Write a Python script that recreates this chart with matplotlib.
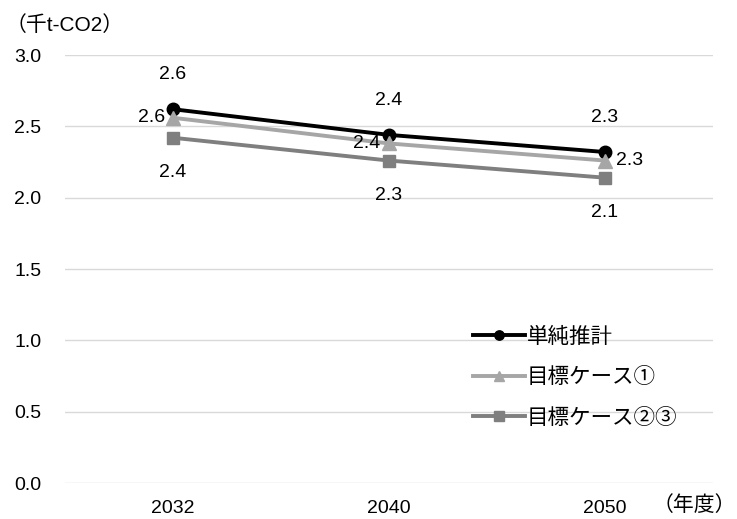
import matplotlib.pyplot as plt
import numpy as np

plt.rcParams['font.family'] = ['Liberation Sans', 'Noto Sans CJK JP', 'DejaVu Sans']

years = ["2032", "2040", "2050"]
names = ["単純推計", "目標ケース①", "目標ケース②③"]
simple = [2.62, 2.44, 2.32]
case1 = [2.56, 2.38, 2.26]
case23 = [2.42, 2.26, 2.14]

fig = plt.figure(figsize=(7.37, 5.19), dpi=100)
ax = fig.add_axes([65 / 737, 36 / 519, 648 / 737, 428 / 519])

x = np.arange(len(years))
ax.plot(x, simple, color="black", lw=2.8, marker="o", ms=9, label=names[0])
ax.plot(x, case1, color="#a6a6a6", lw=2.8, marker="^", ms=10, label=names[1])
ax.plot(x, case23, color="#7f7f7f", lw=2.8, marker="s", ms=9, label=names[2])

fs = 14
for i, v in enumerate(simple):
    ax.annotate(f"{v:.1f}", (i, v), xytext=(0, 25), textcoords="offset points",
                ha="center", va="center", fontsize=fs)
for i, v in enumerate(case1):
    if i < 2:
        ax.annotate(f"{v:.1f}", (i, v), xytext=(-6, 0), textcoords="offset points",
                    ha="right", va="center", fontsize=fs)
    else:
        ax.annotate(f"{v:.1f}", (i, v), xytext=(8, 0), textcoords="offset points",
                    ha="left", va="center", fontsize=fs)
for i, v in enumerate(case23):
    ax.annotate(f"{v:.1f}", (i, v), xytext=(0, -25), textcoords="offset points",
                ha="center", va="center", fontsize=fs)

ax.set_xlim(-0.5, 2.5)
ax.set_ylim(0, 3.0)
ax.set_yticks(np.arange(0, 3.01, 0.5))
ax.set_yticklabels([f"{t:.1f}" for t in np.arange(0, 3.01, 0.5)])
ax.set_xticks(x)
ax.set_xticklabels(years)
ax.tick_params(length=0, labelsize=fs, pad=12)
ax.tick_params(axis="y", pad=17)
ax.grid(axis="y", color="#d9d9d9", lw=1)
ax.set_axisbelow(True)
for s in ax.spines.values():
    s.set_visible(False)

fig.text(6 / 737, 1 - 25 / 519, "（千t-CO2）", fontsize=15, va="center", ha="left")
fig.text(736 / 737, 1 - 505 / 519, "（年度）", fontsize=15, va="center", ha="right")

ax.legend(loc="upper left", bbox_to_anchor=(0.6, 0.41), frameon=False, fontsize=15.5,
          handlelength=2.4, handletextpad=0.1, labelspacing=0.9, markerscale=0.75)

fig.savefig("out.png", dpi=100)
